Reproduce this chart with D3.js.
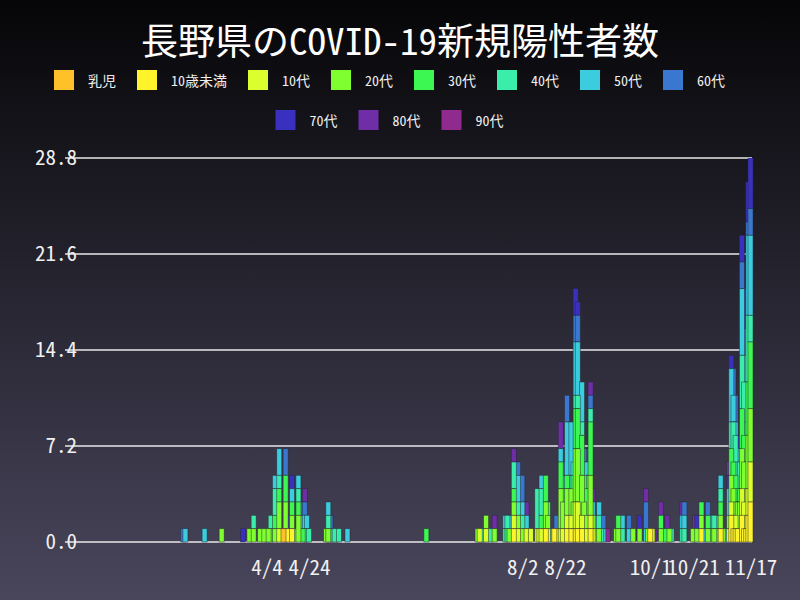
<!DOCTYPE html>
<html><head><meta charset="utf-8">
<script src="https://cdn.jsdelivr.net/npm/d3@7"></script>
<style>
html,body{margin:0;padding:0;background:#000;}
svg{display:block;}
text{font-family:"Noto Sans Mono CJK JP","Noto Sans CJK JP",monospace;}
</style></head><body>
<svg id="chart" width="800" height="600"></svg>
<script>
const title = "長野県のCOVID-19新規陽性者数";
const groups = ["乳児","10歳未満","10代","20代","30代","40代","50代","60代","70代","80代","90代"];
const colors = ["#FFC02A","#FFF42C","#DAFF2C","#80FF30","#3CF752","#3BEDAA","#3BCCDD","#3A78CF","#3A30BF","#702DA8","#8F2A8F"];
const yTicks = [0, 7.2, 14.4, 21.6, 28.8];
const xTickLabels = ["4/4","4/24","8/2","8/22","10/1","10/21","11/17"];
const firstDay = "1/1", lastDay = "11/17", year = 2020;

// daily new cases per age group: [date, count]
const infant = [["4/12",1]];
const under10 = [["4/13",1],["4/14",1],["4/16",1],["7/29",1],["8/13",1],["8/17",1],["8/23",1],["8/25",1],["8/27",1],["8/28",1],["8/30",1],["9/3",1],["10/1",1],["10/25",1],["11/3",1],["11/7",1],["11/8",2],["11/9",1],["11/10",1],["11/11",1],["11/13",2],["11/14",1],["11/15",1],["11/16",2],["11/17",3]];
const teens = [["4/10",1],["7/13",1],["7/16",1],["7/29",1],["7/31",1],["8/4",1],["8/6",1],["8/9",1],["8/10",1],["8/11",1],["8/14",1],["8/18",1],["8/20",1],["8/21",1],["8/23",1],["8/25",1],["8/26",1],["8/27",2],["8/28",2],["8/30",1],["8/31",1],["9/1",1],["9/3",1],["9/4",1],["10/2",1],["11/8",1],["11/9",1],["11/10",1],["11/12",1],["11/13",2],["11/14",2],["11/15",1],["11/16",2],["11/17",3]];
const twenties = [["3/14",1],["3/27",1],["3/29",1],["4/1",1],["4/3",1],["4/5",1],["4/8",1],["4/10",2],["4/13",2],["4/16",1],["4/19",2],["5/2",1],["5/3",1],["7/12",1],["7/16",1],["7/20",1],["7/27",1],["7/29",1],["7/31",1],["8/2",1],["8/5",1],["8/13",2],["8/14",1],["8/20",3],["8/21",2],["8/23",2],["8/25",2],["8/26",2],["8/27",4],["8/28",4],["8/30",3],["8/31",2],["9/1",1],["9/3",3],["9/4",1],["9/5",1],["9/7",1],["9/15",1],["9/16",1],["9/23",1],["9/26",1],["9/30",1],["10/6",1],["10/10",1],["10/21",1],["10/23",1],["10/25",1],["10/28",1],["10/31",1],["11/3",1],["11/4",1],["11/7",1],["11/8",2],["11/9",2],["11/10",1],["11/11",2],["11/12",2],["11/13",3],["11/14",3],["11/15",2],["11/16",4],["11/17",4]];
const thirties = [["4/4",1],["4/6",1],["4/8",1],["4/10",1],["4/13",2],["4/16",1],["4/19",1],["4/21",1],["6/18",1],["7/26",1],["7/29",1],["8/11",1],["8/13",2],["8/14",1],["8/20",2],["8/21",1],["8/23",1],["8/26",2],["8/27",3],["8/28",3],["8/30",3],["8/31",2],["9/1",2],["9/3",4],["9/16",1],["10/6",1],["10/8",1],["10/25",1],["10/28",1],["10/30",1],["11/3",1],["11/8",2],["11/9",2],["11/10",2],["11/11",1],["11/12",1],["11/13",3],["11/14",2],["11/15",2],["11/16",4],["11/17",5]];
const forties = [["3/29",1],["4/6",1],["4/8",2],["4/10",1],["4/17",1],["4/19",1],["4/22",1],["4/23",1],["4/24",1],["5/3",1],["5/6",1],["5/8",1],["7/14",1],["7/18",1],["7/25",1],["7/26",1],["7/29",2],["7/31",1],["8/2",1],["8/9",3],["8/11",2],["8/19",1],["8/25",1],["8/26",1],["8/27",1],["8/28",1],["8/30",1],["9/1",1],["9/3",1],["9/7",1],["9/8",1],["9/18",1],["10/11",1],["10/16",1],["10/17",1],["10/31",1],["11/1",1],["11/3",1],["11/8",2],["11/9",3],["11/10",3],["11/11",2],["11/12",2],["11/13",4],["11/14",4],["11/15",3],["11/16",5],["11/17",2]];
const fifties = [["2/26",1],["3/6",1],["4/8",1],["4/10",2],["4/16",1],["4/19",1],["4/21",1],["4/22",1],["4/23",1],["5/3",1],["5/4",1],["5/5",1],["5/7",1],["5/12",1],["7/15",1],["7/25",1],["7/27",1],["7/31",2],["8/2",1],["8/4",1],["8/10",1],["8/11",1],["8/16",1],["8/20",1],["8/21",1],["8/23",4],["8/25",4],["8/27",4],["8/28",4],["8/30",3],["8/31",1],["9/1",1],["9/4",1],["9/5",1],["9/7",1],["9/9",1],["9/18",1],["9/21",1],["9/29",1],["10/9",1],["10/16",1],["10/17",1],["10/22",1],["10/27",1],["10/30",1],["11/1",1],["11/3",1],["11/5",1],["11/7",2],["11/8",4],["11/9",2],["11/10",1],["11/11",1],["11/13",5],["11/14",2],["11/15",2],["11/16",6],["11/17",6]];
const sixties = [["2/25",1],["4/13",2],["4/21",1],["4/22",1],["5/4",1],["7/31",1],["8/2",2],["8/18",1],["8/21",1],["8/23",2],["8/27",2],["8/28",2],["8/31",1],["9/3",1],["9/8",1],["9/9",1],["9/21",1],["9/29",2],["10/17",1],["10/28",1],["11/6",1],["11/9",2],["11/10",2],["11/12",1],["11/13",2],["11/14",2],["11/15",1],["11/16",1],["11/17",2]];
const seventies = [["3/24",1],["4/14",1],["4/16",1],["8/27",2],["8/28",1],["9/26",1],["10/23",1],["11/7",1],["11/8",1],["11/11",1],["11/13",2],["11/14",3],["11/15",1],["11/16",3],["11/17",4]];
const eighties = [["4/22",1],["7/20",1],["7/29",1],["8/4",1],["8/20",2],["9/1",1],["9/3",1],["9/4",1],["9/29",1],["10/3",1],["10/6",1],["10/9",1],["10/16",1],["10/22",1],["11/7",1],["11/12",1]];
const nineties = [["9/11",1]];

const seriesData = [infant, under10, teens, twenties, thirties, forties, fifties, sixties, seventies, eighties, nineties];

const parse = s => { const [m, d] = s.split("/").map(Number); return new Date(year, m - 1, d); };

// build table
const byDate = new Map();
seriesData.forEach((arr, gi) => {
  arr.forEach(([ds, v]) => {
    const key = parse(ds).getTime();
    if (!byDate.has(key)) {
      const row = { date: new Date(key) };
      groups.forEach(g => row[g] = 0);
      byDate.set(key, row);
    }
    byDate.get(key)[groups[gi]] += v;
  });
});
const table = Array.from(byDate.values()).sort((a, b) => a.date - b.date);
const stacked = d3.stack().keys(groups)(table);

const svg = d3.select("#chart");
const W = 800, H = 600;
const defs = svg.append("defs");
const grad = defs.append("linearGradient").attr("id", "bg").attr("x1", 0).attr("y1", 0).attr("x2", 0).attr("y2", 1);
grad.append("stop").attr("offset", "0%").attr("stop-color", "#060608");
grad.append("stop").attr("offset", "100%").attr("stop-color", "#49465c");
svg.append("rect").attr("width", W).attr("height", H).attr("fill", "url(#bg)");

const plot = { left: 65, right: 752, top: 158, bottom: 542 };
const x = d3.scaleTime().domain([parse(firstDay), parse(lastDay)]).range([66, 750.5]);
const y = d3.scaleLinear().domain([0, yTicks[yTicks.length - 1]]).range([plot.bottom, plot.top]);

defs.append("clipPath").attr("id", "clip").append("rect")
  .attr("x", 0).attr("y", plot.top).attr("width", W).attr("height", plot.bottom - plot.top + 2);

// title
svg.append("text").attr("x", 400).attr("y", 39).attr("text-anchor", "middle")
  .attr("dominant-baseline", "central").attr("fill", "#ffffff").attr("font-size", 37).text(title);

// legend
const legend = svg.append("g");
const rows = [groups.slice(0, 8), groups.slice(8)];
rows.forEach((row, ri) => {
  const cy = 80 + ri * 40;
  const items = row.map(g => {
    const gi = groups.indexOf(g);
    const it = legend.append("g");
    it.append("rect").attr("width", 20).attr("height", 20).attr("y", cy - 10).attr("fill", colors[gi]);
    const t = it.append("text").attr("x", 34).attr("y", cy).attr("dominant-baseline", "central")
      .attr("fill", "#f0f0f0").attr("font-size", 14).text(g);
    const w = 34 + t.node().getComputedTextLength() + 21;
    return { it, w };
  });
  const total = d3.sum(items, d => d.w);
  let cx = 400 - total / 2;
  items.forEach(d => { d.it.attr("transform", `translate(${cx},0)`); cx += d.w; });
});

// grid
const grid = svg.append("g");
grid.selectAll("line").data(yTicks).join("line")
  .attr("x1", plot.left).attr("x2", plot.right)
  .attr("y1", d => y(d)).attr("y2", d => y(d))
  .attr("stroke", "#e8e8e8").attr("stroke-width", 1.5);

// y axis labels
const yAxis = d3.axisLeft(y).tickValues(yTicks).tickFormat(d3.format(".1f")).tickSize(0).tickPadding(0);
const ya = svg.append("g").attr("transform", "translate(77,0)").call(yAxis);
ya.select(".domain").remove();
ya.selectAll("text").attr("font-size", 21).attr("fill", "#f0f0f0")
  .attr("font-family", "\"Noto Sans Mono CJK JP\",\"Noto Sans CJK JP\",monospace");

// x axis labels
const xAxis = d3.axisBottom(x).tickValues(xTickLabels.map(parse))
  .tickFormat(d => `${d.getMonth() + 1}/${d.getDate()}`).tickSize(0).tickPadding(0);
const xa = svg.append("g").attr("transform", "translate(0,560)").call(xAxis);
xa.select(".domain").remove();
xa.selectAll("text").attr("font-size", 21).attr("fill", "#f0f0f0")
  .attr("font-family", "\"Noto Sans Mono CJK JP\",\"Noto Sans CJK JP\",monospace");

// bars: draw datasets in reverse order (last group first)
const barW = 5;
const barsG = svg.append("g").attr("clip-path", "url(#clip)");
stacked.slice().reverse().forEach(layer => {
  const gi = groups.indexOf(layer.key);
  barsG.append("g").selectAll("rect")
    .data(layer.filter(d => d[1] > d[0]))
    .join("rect")
    .attr("x", d => x(d.data.date) - barW / 2)
    .attr("width", barW)
    .attr("y", d => y(d[1]))
    .attr("height", d => y(d[0]) - y(d[1]))
    .attr("fill", colors[gi])
    .attr("stroke", "rgba(40,40,52,0.6)")
    .attr("stroke-width", 0.8);
});
</script>
</body></html>
